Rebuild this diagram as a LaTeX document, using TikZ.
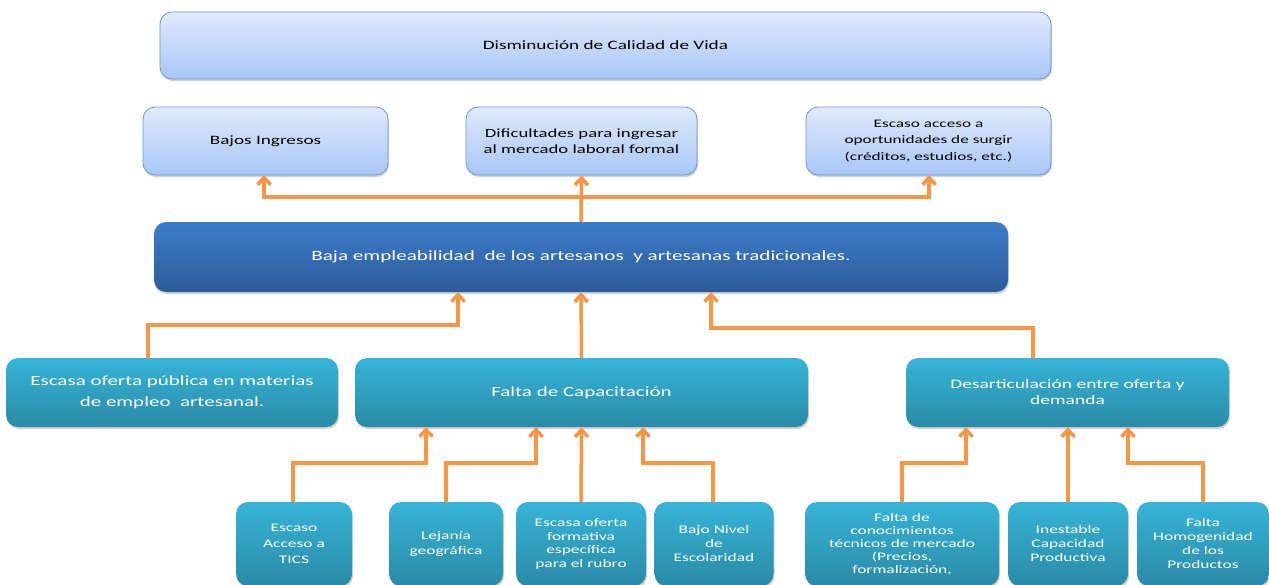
\documentclass[tikz,border=0pt]{standalone}
\usepackage{fontspec}
\newfontfamily\calib[FakeStretch=1.5]{Carlito}
\usetikzlibrary{arrows.meta,shadows}
\definecolor{ltop}{HTML}{E0EAFC}
\definecolor{lbot}{HTML}{A8C6F6}
\definecolor{lbrd}{HTML}{7096D0}
\definecolor{dtop}{HTML}{3C7CC9}
\definecolor{dbot}{HTML}{2C5C9A}
\definecolor{ttop}{HTML}{37B4D7}
\definecolor{tbot}{HTML}{2A8AA6}
\definecolor{orng}{HTML}{F79646}
\tikzset{
  box/.style={rounded corners=12pt, inner sep=0pt, align=center,
    drop shadow={shadow xshift=1pt, shadow yshift=-2pt, opacity=0.35}},
  lbox/.style={box, top color=ltop, bottom color=lbot, draw=lbrd, line width=0.8pt, text=black},
  dbox/.style={box, top color=dtop, bottom color=dbot, text=white},
  tbox/.style={box, top color=ttop, bottom color=tbot, text=white},
  arr/.style={draw=orng, line width=3.5pt, line join=miter,
    -{Straight Barb[length=7pt,width=13pt]},
    preaction={draw=black!30, transform canvas={shift={(1.2pt,-1.5pt)}}}},
}
\newcommand{\fs}[2]{\calib\fontsize{#1}{#2}\selectfont}
\begin{document}
\begin{tikzpicture}[x=1pt,y=-1pt]
\useasboundingbox (0,0) rectangle (1269,584);
\fill[white] (0,0) rectangle (1269,584);

% top
\node[lbox, minimum width=891pt, minimum height=67pt, font=\fs{12.8}{15}] (top) at (605.5,45.5) {\raisebox{-1pt}{Disminución de Calidad de Vida}};
% effects
\node[lbox, minimum width=245pt, minimum height=68pt, font=\fs{12.8}{15}] (bi) at (265.5,141) {\raisebox{-1.5pt}{Bajos Ingresos}};
\node[lbox, minimum width=231pt, minimum height=68pt, font=\fs{12.5}{16}] (dif) at (581.5,141) {Dificultades para ingresar\\al mercado laboral formal};
\node[lbox, minimum width=245pt, minimum height=68pt, font=\fs{11.5}{16.5}] (ea) at (928.5,141) {Escaso acceso a\\oportunidades de surgir\\(créditos, estudios, etc.)};
% core
\node[dbox, minimum width=854pt, minimum height=70pt, font=\fs{14.1}{17}] (baja) at (581,257) {\raisebox{-1.5pt}{Baja empleabilidad\ \ de los artesanos\ \ y artesanas tradicionales.}};
% causes
\node[tbox, minimum width=332pt, minimum height=69pt, font=\fs{14}{21}] (pub) at (172,392.5) {Escasa oferta pública en materias\\de empleo\ \ artesanal.};
\node[tbox, minimum width=453pt, minimum height=69pt, font=\fs{14}{20}] (cap) at (581.5,392.5) {\raisebox{-1.5pt}{Falta de Capacitación}};
\node[tbox, minimum width=323pt, minimum height=69pt, font=\fs{13}{16}] (des) at (1067.5,392.5) {Desarticulación entre oferta y\\demanda};
% sub-causes
\tikzset{sub/.style={tbox, minimum height=84pt}}
\node[sub, minimum width=116pt, font=\fs{11.6}{16}] (tics) at (294,544) {Escaso\\Acceso a\\TICS};
\node[sub, minimum width=114pt, font=\fs{11.6}{15}] (lej) at (446,544) {Lejanía\\geográfica};
\node[sub, minimum width=130pt, font=\fs{11.6}{13.5}] (ofe) at (581,544) {Escasa oferta\\formativa\\específica\\para el rubro};
\node[sub, minimum width=119pt, font=\fs{11.6}{14}] (esc) at (714,544) {Bajo Nivel\\de\\Escolaridad};
\node[sub, minimum width=194pt, font=\fs{11.6}{13}] (con) at (902,544) {Falta de\\conocimientos\\técnicos de mercado\\(Precios,\\formalización,};
\node[sub, minimum width=120pt, font=\fs{11.6}{14}] (ine) at (1068,544) {Inestable\\Capacidad\\Productiva};
\node[sub, minimum width=132pt, font=\fs{11.6}{14}] (hom) at (1203,544) {Falta\\Homogenidad\\de los\\Productos};

% bend points
\coordinate (j1) at (581,197);
\coordinate (bi1) at (264,175);
\coordinate (ea1) at (929,175);
\coordinate (hL) at (148,325);
\coordinate (bL) at (458,292);
\coordinate (hR) at (1033,328);
\coordinate (bR) at (711,292);
\coordinate (c1) at (426,427);
\coordinate (c2) at (536,427);
\coordinate (c4) at (643,427);
\coordinate (d1) at (966,427);
\coordinate (d3) at (1128,427);
\coordinate (h1) at (293,463);
\coordinate (h2) at (446,463);
\coordinate (h4) at (713,463);
\coordinate (h5) at (902,463);
\coordinate (h7) at (1203,463);

% connectors top
\draw[arr] (baja.north) -- (dif.south);
\draw[arr] (j1) -| (bi1);
\draw[arr] (j1) -| (ea1);
% causes to core
\draw[arr] (pub.north -| hL) |- (hL) -| (bL);
\draw[arr] (cap.north) -- (baja.south);
\draw[arr] (des.north -| hR) |- (hR) -| (bR);
% sub-causes
\draw[arr] (tics.north -| h1) |- (h1) -| (c1);
\draw[arr] (lej.north) |- (h2) -| (c2);
\draw[arr] (ofe.north) -- (cap.south);
\draw[arr] (esc.north -| h4) |- (h4) -| (c4);
\draw[arr] (con.north) |- (h5) -| (d1);
\draw[arr] (ine.north) -- (des.south -| ine.north);
\draw[arr] (hom.north -| h7) |- (h7) -| (d3);
\end{tikzpicture}
\end{document}
